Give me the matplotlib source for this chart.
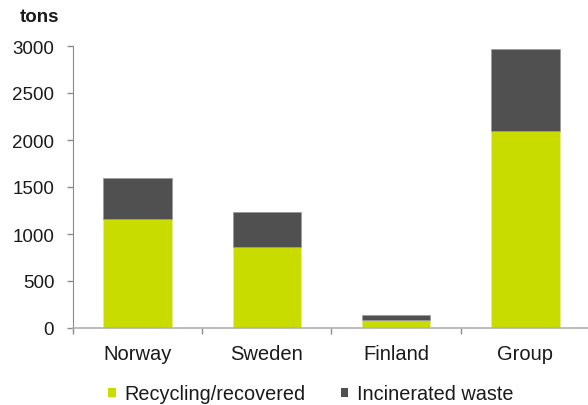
import matplotlib.pyplot as plt
from matplotlib.patches import Patch

plt.rcParams['font.family'] = ['Liberation Sans', 'DejaVu Sans']

countries = ['Norway', 'Sweden', 'Finland', 'Group']
recycled = [1155, 865, 88, 2100]
incinerated = [445, 372, 50, 870]
series_names = ['Recycling/recovered', 'Incinerated waste']

green = '#c8dc00'
dark = '#505050'
axis_grey = '#8c8c8c'
txt = '#1a1a1a'

fig = plt.figure(figsize=(5.88, 4.06), dpi=100)
ax = fig.add_axes([73/588, 77/406, (588-73)/588, (329-47)/406])

x = range(len(countries))
ax.bar(x, recycled, width=0.53, color=green, edgecolor='#e4ec9a', linewidth=0.5)
ax.bar(x, incinerated, width=0.53, bottom=recycled, color=dark, edgecolor='#9a9a9a', linewidth=0.5)

ax.set_xlim(-0.5, 3.485)
ax.set_ylim(0, 3000)
ax.set_yticks(range(0, 3001, 500))
ax.tick_params(axis='y', labelsize=13.5, colors=axis_grey, labelcolor=txt,
               length=4.5, width=1, direction='out', pad=9)

ax.set_xticks(list(x))
ax.set_xticklabels(countries)
ax.tick_params(axis='x', which='major', length=0, labelsize=14.5, labelcolor=txt, pad=11.5)
ax.set_xticks([-0.5, 0.5, 1.5, 2.5], minor=True)
ax.tick_params(axis='x', which='minor', length=4.5, width=1, colors=axis_grey, direction='out')

for side in ['top', 'right']:
    ax.spines[side].set_visible(False)
ax.spines['left'].set_color(axis_grey)
ax.spines['bottom'].set_color('#b0b0b0')
ax.spines['bottom'].set_linewidth(1.2)

fig.text(20/588, 1 - 18/406, 'tons', fontsize=13.5, fontweight='bold', va='center', ha='left', color=txt)

handles = [Patch(facecolor=green, edgecolor='none'), Patch(facecolor=dark, edgecolor='none')]
fig.legend(handles, series_names, loc='center', bbox_to_anchor=(311/588, 1 - 395/406),
           ncol=2, frameon=False, fontsize=14.3, handlelength=0.38, handleheight=0.38,
           handletextpad=0.45, columnspacing=1.75, labelcolor=txt)

fig.savefig('out.png', dpi=100)
